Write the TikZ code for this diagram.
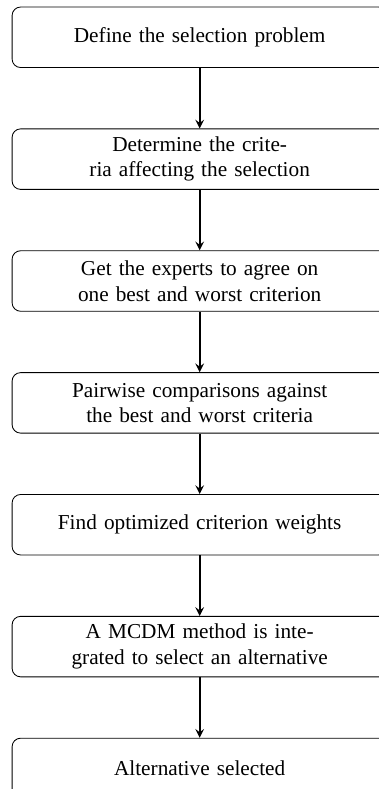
\documentclass[tikz,border=0pt]{standalone}
\usepackage{fontspec}
\setmainfont{Liberation Serif}
\usepackage{tikz}
\usetikzlibrary{shapes.geometric, arrows, positioning}

\begin{document}
\begin{tikzpicture}[node distance=1cm,
    stepbox/.style={rectangle, rounded corners, draw=black, minimum width=6.2cm, minimum height=1cm, text width=5cm, align=center},
    flow/.style={thick, ->, >=stealth}]
% Frame of the figure
\clip (0,0) rectangle (6.26,-13.04);

% Steps
\node[stepbox] (define) at (3.3,-0.616) {Define the selection problem};
\node[stepbox, below=of define] (criteria) {Determine the crite-\\ria affecting the selection};
\node[stepbox, below=of criteria] (agree) {Get the experts to agree on\\one best and worst criterion};
\node[stepbox, below=of agree] (compare) {Pairwise comparisons against\\the best and worst criteria};
\node[stepbox, below=of compare] (weights) {Find optimized criterion weights};
\node[stepbox, below=of weights] (mcdm) {A MCDM method is inte-\\grated to select an alternative};
\node[stepbox, below=of mcdm] (selected) {Alternative selected};

% Arrows
\draw[flow] (define) -- (criteria);
\draw[flow] (criteria) -- (agree);
\draw[flow] (agree) -- (compare);
\draw[flow] (compare) -- (weights);
\draw[flow] (weights) -- (mcdm);
\draw[flow] (mcdm) -- (selected);
\end{tikzpicture}
\end{document}
